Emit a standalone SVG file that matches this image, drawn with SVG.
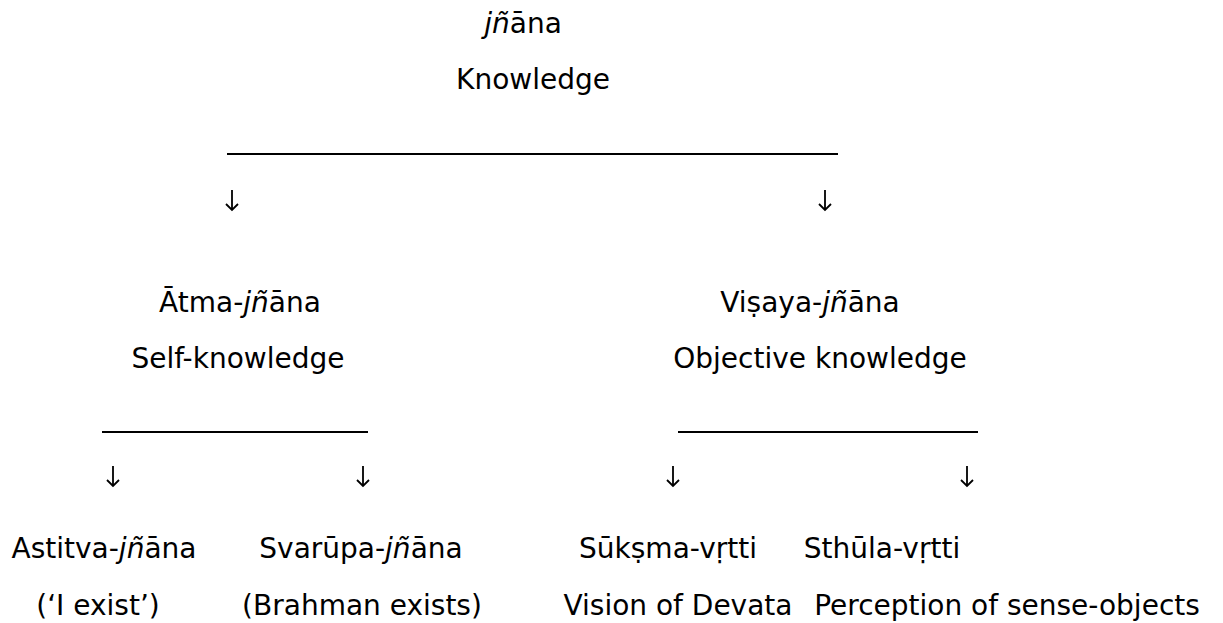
<svg xmlns="http://www.w3.org/2000/svg" width="1223" height="623" viewBox="0 0 1223 623">
<style>
text{font-family:"DejaVu Sans","Noto Sans",sans-serif;font-size:28px;fill:#000;text-anchor:middle}
.i{font-style:italic}
.ln{stroke:#000;stroke-width:2}
.arr{stroke:#000;stroke-width:1.8;fill:none}
</style>
<defs>
<path id="a" d="M0,-10 V10 M-6,4 L0,10 L6,4" class="arr"/>
</defs>
<rect width="1223" height="623" fill="#fff"/>
<g id="root">
<text x="523" y="33"><tspan class="i">jñ</tspan>āna</text>
<text x="533" y="89">Knowledge</text>
</g>
<g id="atma">
<text x="240" y="312">Ātma-<tspan class="i">jñ</tspan>āna</text>
<text x="238" y="368">Self-knowledge</text>
</g>
<g id="visaya">
<text x="810" y="312">Viṣaya-<tspan class="i">jñ</tspan>āna</text>
<text x="820" y="368">Objective knowledge</text>
</g>
<g id="astitva">
<text x="104" y="558">Astitva-<tspan class="i">jñ</tspan>āna</text>
<text x="98" y="615">(‘I exist’)</text>
</g>
<g id="svarupa">
<text x="361" y="558">Svarūpa-<tspan class="i">jñ</tspan>āna</text>
<text x="362" y="615">(Brahman exists)</text>
</g>
<g id="suksma">
<text x="668" y="558">Sūkṣma-vṛtti</text>
<text x="678" y="615">Vision of Devata</text>
</g>
<g id="sthula">
<text x="882" y="558">Sthūla-vṛtti</text>
<text x="1007" y="615">Perception of sense-objects</text>
</g>
<g id="connectors">
<line class="ln" x1="227" y1="154" x2="838" y2="154"/>
<use href="#a" x="232" y="200"/>
<use href="#a" x="825" y="200"/>
<line class="ln" x1="102" y1="432" x2="368" y2="432"/>
<line class="ln" x1="678" y1="432" x2="978" y2="432"/>
<use href="#a" x="113" y="476"/>
<use href="#a" x="363" y="476"/>
<use href="#a" x="673" y="476"/>
<use href="#a" x="967" y="476"/>
</g>
</svg>
